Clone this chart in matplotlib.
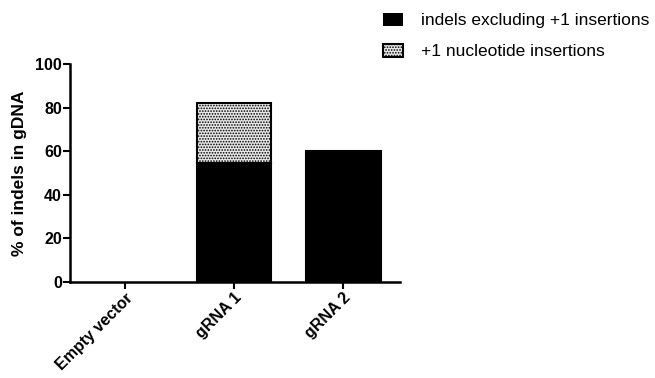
import numpy as np
import matplotlib
matplotlib.use('Agg')
import matplotlib.pyplot as plt

plt.rcParams['font.family'] = ['Liberation Sans', 'DejaVu Sans']
plt.rcParams['hatch.linewidth'] = 0.8
plt.rcParams['hatch.color'] = '#606060'

categories = ['Empty vector', 'gRNA 1', 'gRNA 2']
indels_excl = [0, 54.5, 60]
plus1_ins = [0, 27.5, 0]

fig = plt.figure(figsize=(6.55, 3.78), dpi=100)
ax = fig.add_axes([0.107, 0.254, 0.504, 0.577])

x = np.arange(len(categories))
w = 0.68
lw1 = [0 if v == 0 else 1.5 for v in indels_excl]
b1 = ax.bar(x, indels_excl, width=w, color='black', edgecolor='black', linewidth=lw1,
            label='indels excluding +1 insertions')
b2 = ax.bar(x[1:2], plus1_ins[1:2], width=w, bottom=indels_excl[1:2], color='#e8e8e8',
            edgecolor='black', hatch='......', linewidth=1.5, label='+1 nucleotide insertions')

ax.set_xlim(-0.5, 2.52)
ax.set_ylim(0, 100)
ax.set_yticks([0, 20, 40, 60, 80, 100])
ax.set_xticks(x)
ax.set_xticklabels(categories, rotation=45, ha='right', rotation_mode='anchor',
                   fontweight='bold', fontsize=11.5)
for lab in ax.get_yticklabels():
    lab.set_fontweight('bold')
    lab.set_fontsize(11.5)
ax.set_ylabel('% of indels in gDNA', fontweight='bold', fontsize=12.5, labelpad=6)

for s in ['top', 'right']:
    ax.spines[s].set_visible(False)
for s in ['left', 'bottom']:
    ax.spines[s].set_linewidth(1.8)
ax.tick_params(width=1.5, length=5, direction='out', pad=1)

fig.legend(handles=[b1, b2], loc='upper left', bbox_to_anchor=(0.585, 0.966),
           frameon=False, fontsize=12.5, handlelength=1.15, handleheight=0.75,
           handletextpad=1.0, labelspacing=0.9, borderpad=0, borderaxespad=0)

fig.savefig('out.png', dpi=100)
